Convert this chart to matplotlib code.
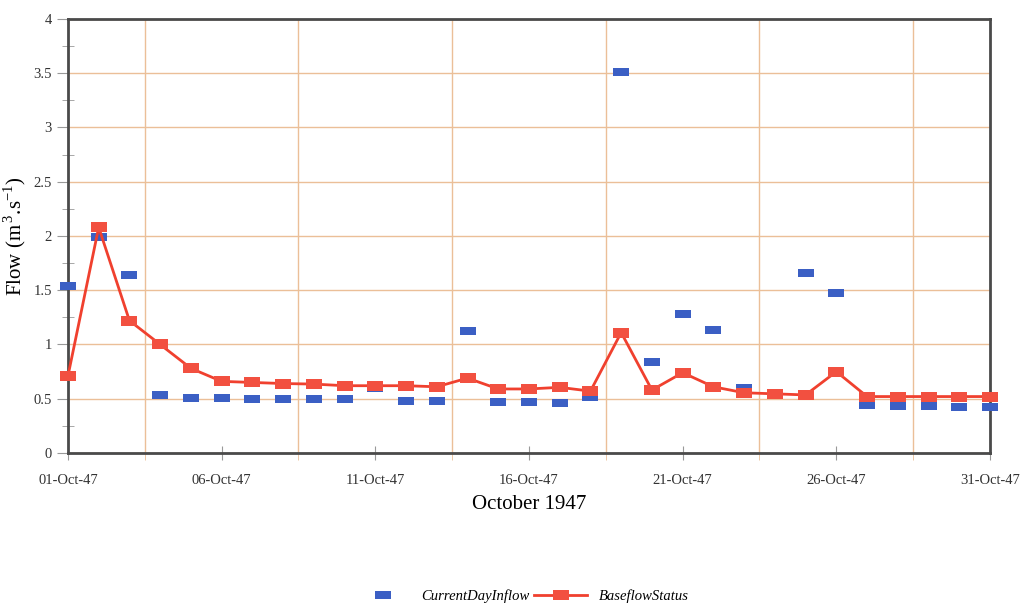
import matplotlib
matplotlib.use("Agg")
import matplotlib.pyplot as plt
from matplotlib.ticker import FixedLocator, MultipleLocator

# Daily flows for October 1947 (m3/s)
days = list(range(1, 32))
current_day_inflow = [1.54, 1.99, 1.64, 0.53, 0.51, 0.51, 0.50, 0.50, 0.50, 0.50,
                      0.60, 0.48, 0.48, 1.12, 0.47, 0.47, 0.46, 0.52, 3.51, 0.84,
                      1.28, 1.13, 0.60, 0.53, 1.66, 1.47, 0.44, 0.43, 0.43, 0.42,
                      0.42]
baseflow_status = [0.71, 2.08, 1.22, 1.00, 0.78, 0.66, 0.65, 0.64, 0.635, 0.62,
                   0.62, 0.62, 0.61, 0.69, 0.59, 0.59, 0.605, 0.57, 1.11, 0.58,
                   0.74, 0.61, 0.555, 0.545, 0.535, 0.75, 0.52, 0.52, 0.52, 0.52,
                   0.52]

label_days = [1, 6, 11, 16, 21, 26, 31]
label_texts = ["01-Oct-47", "06-Oct-47", "11-Oct-47", "16-Oct-47",
               "21-Oct-47", "26-Oct-47", "31-Oct-47"]
grid_days = [3.5, 8.5, 13.5, 18.5, 23.5, 28.5]

serif = "Liberation Serif"
grid_color = "#ebbf98"
axis_color = "#4a4a4a"

# flat rectangles for the inflow markers, wider-than-tall boxes for baseflow
flat_rect = [(-1, -0.47), (1, -0.47), (1, 0.47), (-1, 0.47), (-1, -0.47)]
box_rect = [(-1, -0.68), (1, -0.68), (1, 0.68), (-1, 0.68), (-1, -0.68)]

fig = plt.figure(figsize=(10.22, 6.03), dpi=100)
ax = fig.add_axes([0.0665, 0.2488, 0.9022, 0.7197])

ax.plot(days, current_day_inflow, linestyle="none", marker=flat_rect, markersize=11,
        color="#3b5fc4", markeredgewidth=0, zorder=4, clip_on=False,
        label="CurrentDayInflow")
ax.plot(days, baseflow_status, color="#f0402e", linewidth=2, marker=box_rect,
        markersize=11, markerfacecolor="#f25040", markeredgewidth=0,
        zorder=5, clip_on=False, label="BaseflowStatus")

ax.set_xlim(1, 31)
ax.set_ylim(0, 4)

# labelled dates on major ticks, grid lines between them
ax.xaxis.set_major_locator(FixedLocator(label_days))
ax.set_xticklabels(label_texts, fontfamily=serif, fontsize=10.5)
ax.xaxis.set_minor_locator(FixedLocator(grid_days))
ax.grid(True, which="minor", axis="x", color=grid_color, linewidth=1)
ax.grid(True, which="major", axis="y", color=grid_color, linewidth=1)

ax.yaxis.set_major_locator(MultipleLocator(0.5))
ax.yaxis.set_minor_locator(MultipleLocator(0.25))
ax.set_yticklabels([f"{v:g}" for v in ax.get_yticks()], fontfamily=serif, fontsize=10.5)

ax.tick_params(axis="x", which="major", direction="inout", length=10,
               color="#999999", pad=10, labelcolor="#333333")
ax.tick_params(axis="x", which="minor", direction="out", length=5, color=grid_color)
ax.tick_params(axis="y", which="major", direction="out", length=8,
               color="#999999", labelcolor="#333333")
ax.tick_params(axis="y", which="minor", direction="inout", length=8, color="#999999")

for side in ["left", "bottom", "top", "right"]:
    ax.spines[side].set_color(axis_color)
    ax.spines[side].set_linewidth(2)

ax.set_ylabel(r"Flow (m$^{\,\mathregular{3}}$.s$^{\mathregular{-1}}$)", fontfamily=serif,
              fontsize=15, labelpad=4)
ax.set_xlabel("October 1947", fontfamily=serif, fontsize=15, labelpad=6)

fig.legend(loc="center left", bbox_to_anchor=(356 / 1022, 1 - 596 / 603), ncol=2,
           frameon=False, borderpad=0, borderaxespad=0,
           prop={"family": serif, "style": "italic", "size": 10.5},
           handlelength=3.7, columnspacing=0.3, handletextpad=0.75)

fig.savefig("out.png", dpi=100, facecolor="white")
